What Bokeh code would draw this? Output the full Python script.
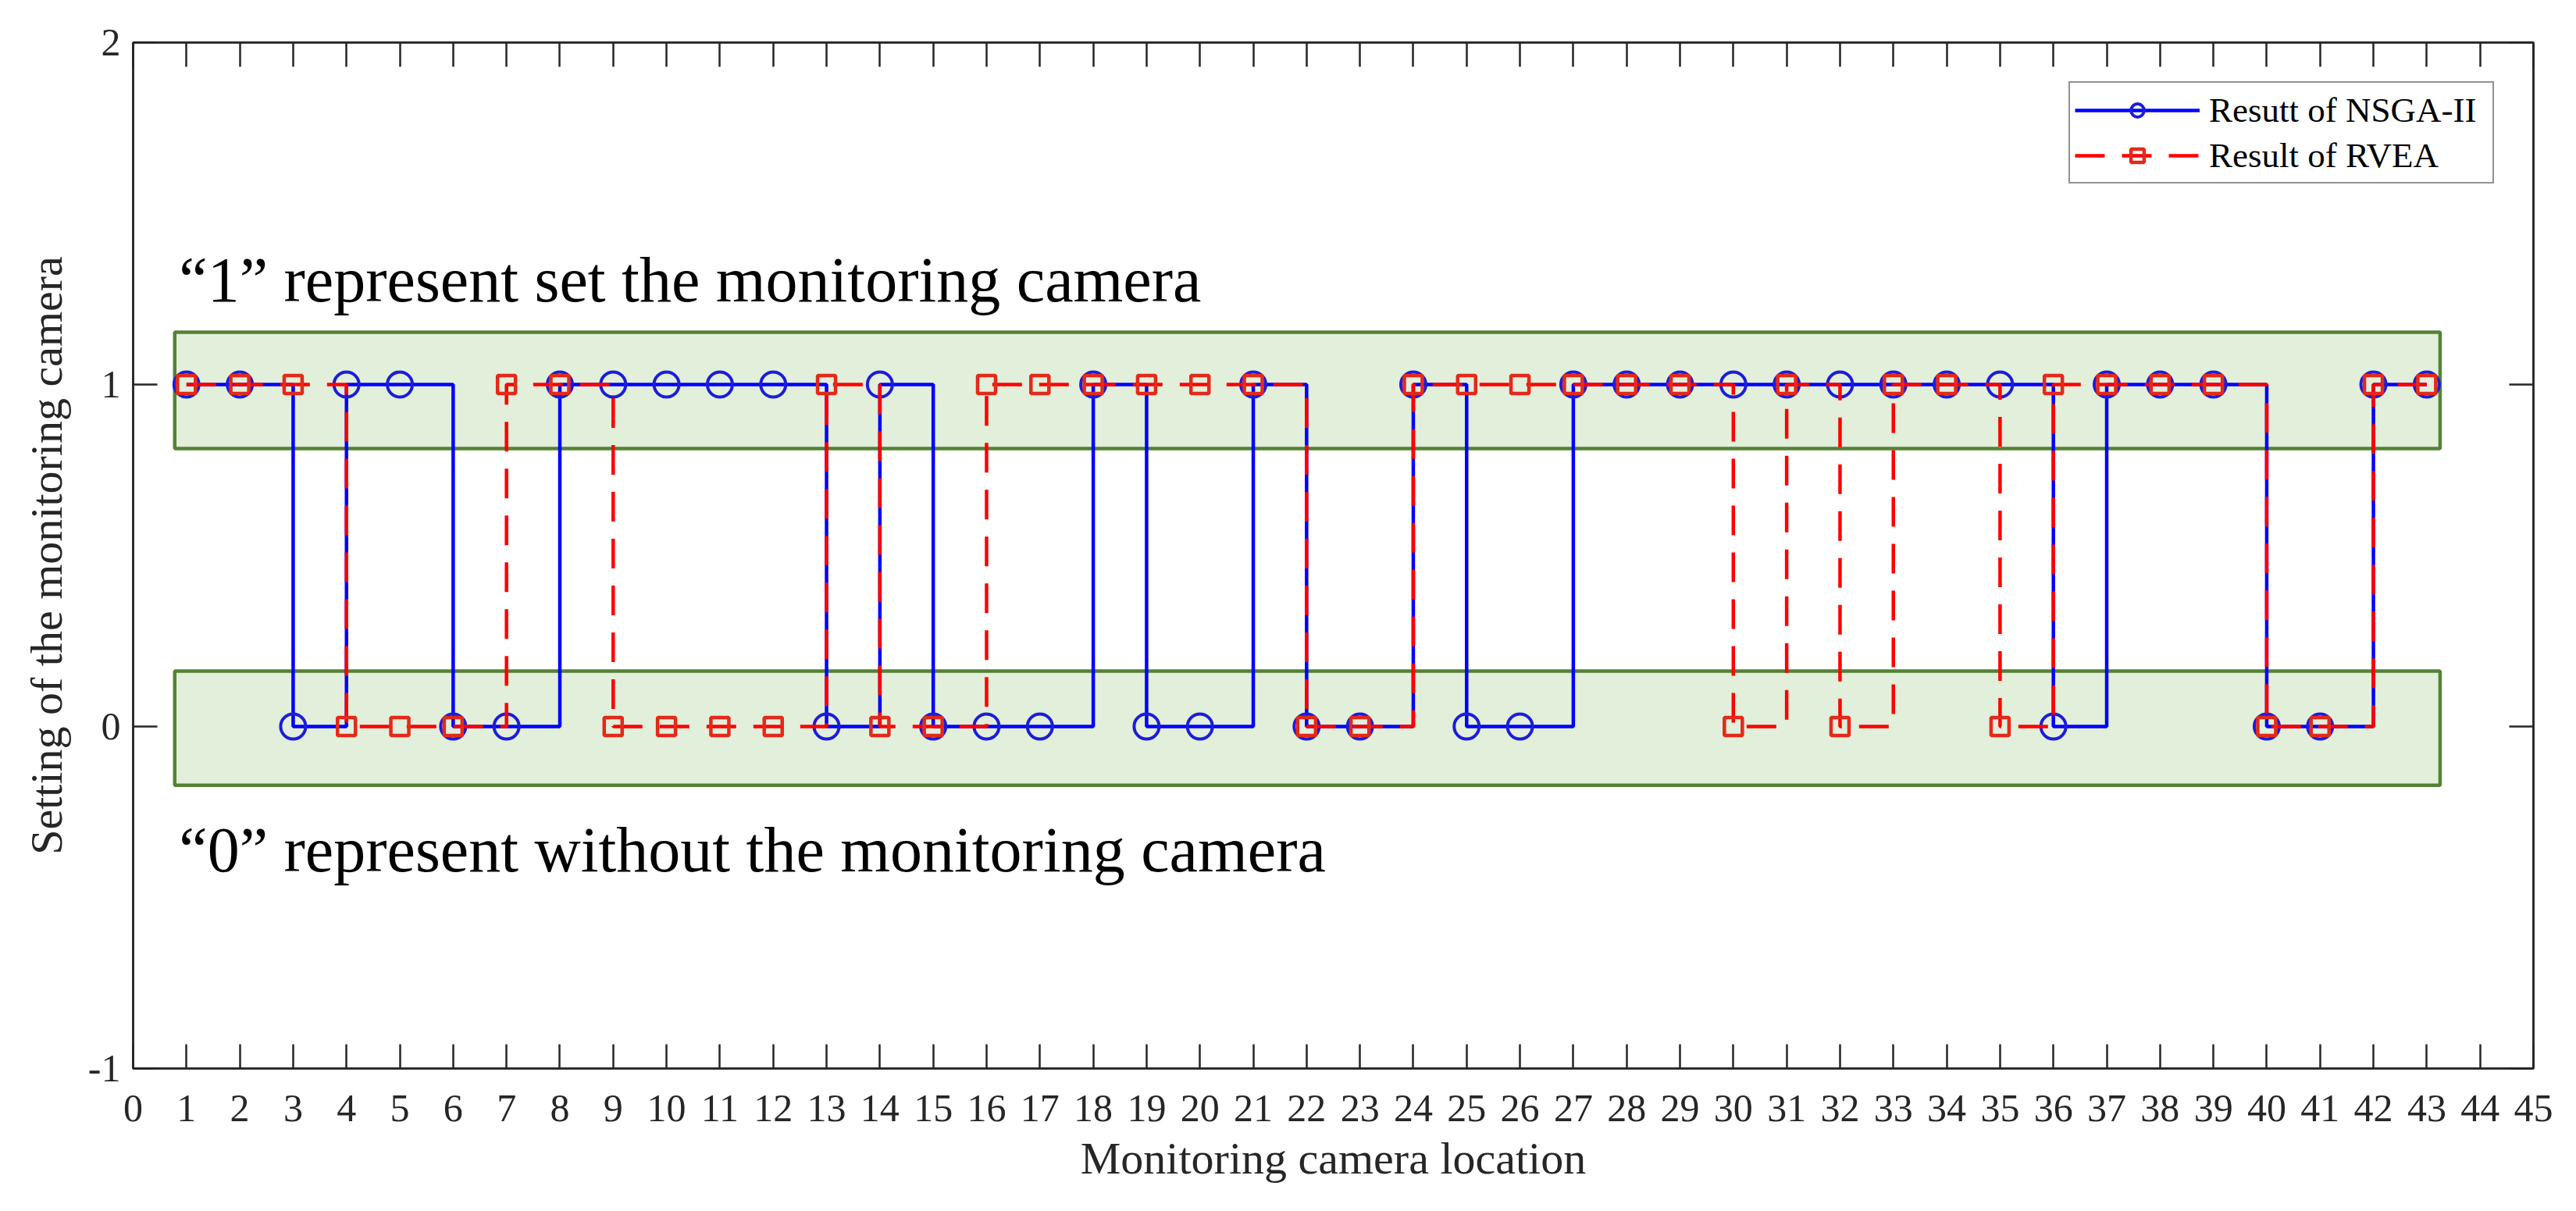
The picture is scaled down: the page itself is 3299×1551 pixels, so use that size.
from bokeh.plotting import figure
from bokeh.models import (Range1d, FixedTicker, LinearAxis, Legend, LegendItem,
                          Label, CustomJSTickFormatter)
from bokeh.embed import file_html
from bokeh.resources import INLINE

# ---------------- data ----------------
locations = list(range(1, 44))
nsga2 = [1, 1, 0, 1, 1, 0, 0, 1, 1, 1,
         1, 1, 0, 1, 0, 0, 0, 1, 0, 0,
         1, 0, 0, 1, 0, 0, 1, 1, 1, 1,
         1, 1, 1, 1, 1, 0, 1, 1, 1, 0,
         0, 1, 1]
rvea = [1, 1, 1, 0, 0, 0, 1, 1, 0, 0,
        0, 0, 1, 0, 0, 1, 1, 1, 1, 1,
        1, 0, 0, 1, 1, 1, 1, 1, 1, 0,
        1, 0, 1, 1, 0, 1, 1, 1, 1, 0,
        0, 1, 1]
x_ticks = list(range(0, 46))
y_ticks = [-1, 0, 1, 2]
series_labels = ["Resutt of NSGA-II", "Result of RVEA"]
x_label = "Monitoring camera location"
y_label = "Setting of the monitoring camera"
note_texts = ["\u201c1\u201d represent set the monitoring camera",
              "\u201c0\u201d represent without the monitoring camera"]
# highlight bands (left, right, bottom, top)
band_left = [0.78, 0.78]
band_right = [43.25, 43.25]
band_bottom = [0.813, -0.172]
band_top = [1.153, 0.162]

# ---------------- styles ----------------
FONT = "Liberation Serif"
AX = "#262626"
BLUE = "#0000FF"
BLUE_M = "#1C1CDC"
RED = "#FF0000"
RED_M = "#E4291A"

W, H = 3290, 1545
p = figure(width=W, height=H, output_backend="svg", toolbar_location=None,
           x_range=Range1d(0, 45), y_range=Range1d(-1, 2),
           min_border_left=170, min_border_top=54, min_border_right=W - 3244,
           min_border_bottom=H - 1368)
p.background_fill_color = "white"
p.border_fill_color = "white"
p.outline_line_color = AX
p.outline_line_width = 2.5
p.xgrid.visible = False
p.ygrid.visible = False

# bands
p.quad(left=band_left, right=band_right, bottom=band_bottom, top=band_top,
       fill_color="#E2EFDA", line_color="#548235", line_width=4.5)

# series
l1 = p.step(locations, nsga2, mode="after", line_color=BLUE, line_width=4.5)
m1 = p.scatter(locations, nsga2, marker="circle", size=32, fill_color=None,
               line_color=BLUE_M, line_width=4)
l2 = p.step(locations, rvea, mode="after", line_color=RED, line_width=4.5,
            line_dash="38 22")
m2 = p.scatter(locations, rvea, marker="square", size=23, fill_color=None,
               line_color=RED_M, line_width=4.5)

# notes
p.add_layout(Label(x=0.86, y=1.305, text=note_texts[0], text_font=FONT,
                   text_font_size="82px", text_color="black",
                   text_baseline="alphabetic", text_align="left"))
p.add_layout(Label(x=0.86, y=-0.36, text=note_texts[1], text_font=FONT,
                   text_font_size="82px", text_color="black",
                   text_baseline="alphabetic", text_align="left"))

# axes
def style_axis(ax, ticks, show_labels):
    ax.ticker = FixedTicker(ticks=ticks)
    ax.axis_line_color = AX
    ax.axis_line_width = 2.5
    ax.major_tick_line_color = AX
    ax.major_tick_line_width = 2.5
    ax.major_tick_in = 31
    ax.major_tick_out = 0
    ax.minor_tick_line_color = None
    ax.major_label_text_font = FONT
    ax.major_label_text_color = AX
    ax.axis_label_text_font = FONT
    ax.axis_label_text_font_style = "normal"
    ax.axis_label_text_color = AX
    if show_labels:
        ax.major_label_text_font_size = "50px"
        ax.axis_label_text_font_size = "58px"
    else:
        ax.formatter = CustomJSTickFormatter(code="return ''")
        ax.major_label_text_font_size = "1px"
        ax.major_label_standoff = 0

xa = p.xaxis[0]
ya = p.yaxis[0]
style_axis(xa, x_ticks, True)
style_axis(ya, y_ticks, True)
xa.axis_label = x_label
ya.axis_label = y_label
xa.major_label_standoff = 34
xa.axis_label_standoff = 12
ya.major_label_standoff = 16
ya.axis_label_standoff = 18
ya.major_label_overrides = {-1: "-1", 0: "0", 1: "1", 2: "2"}

top_ax = LinearAxis()
right_ax = LinearAxis()
style_axis(top_ax, x_ticks, False)
style_axis(right_ax, y_ticks, False)
p.add_layout(top_ax, "above")
p.add_layout(right_ax, "right")

# legend
legend = Legend(items=[LegendItem(label=series_labels[0], renderers=[l1, m1]),
                       LegendItem(label=series_labels[1], renderers=[l2, m2])],
                location="top_right")
legend.margin = 50
legend.padding = 6
legend.spacing = 1
legend.glyph_width = 160
legend.glyph_height = 42
legend.label_standoff = 12
legend.label_height = 57
legend.label_width = 357
legend.label_text_font = FONT
legend.label_text_font_size = "45px"
legend.label_text_color = "black"
legend.border_line_color = AX
legend.border_line_width = 2.5
legend.background_fill_color = "white"
legend.background_fill_alpha = 1.0
p.add_layout(legend, "center")

open("out.html", "w").write(file_html(p, INLINE))
